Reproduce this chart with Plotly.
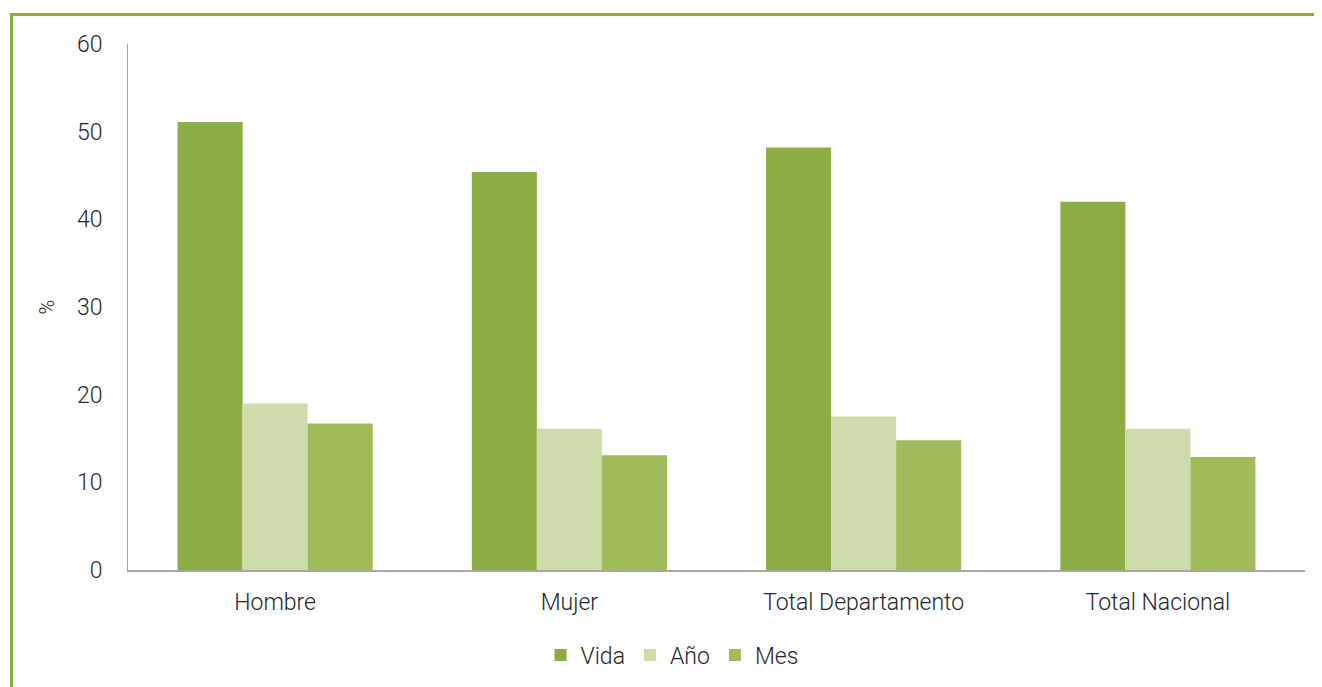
import plotly.graph_objects as go

categories = ["Hombre", "Mujer", "Total Departamento", "Total Nacional"]
vida = [51.1, 45.4, 48.2, 42.0]
anio = [19.0, 16.1, 17.5, 16.1]
mes = [16.7, 13.1, 14.8, 12.9]
y_ticks = [0, 10, 20, 30, 40, 50, 60]

# page has an 8px body margin; figure sized to fill the remaining window
OFF = 8
W, H = 1322 - OFF, 687 - OFF
PL, PR, PT, PB = 128, 1305, 44, 571  # plot area in page pixels
ML, MT = PL - OFF, PT - OFF
MR = W - (PR - OFF)
MB = H - (PB - OFF)
PW, PH = W - ML - MR, H - MT - MB

def px_x(p):
    return (p - OFF - ML) / PW

def px_y(p):
    return (H - MB - (p - OFF)) / PH

FAM = "Roboto Light, Roboto"
font = dict(family=FAM, size=23, color="#262626", weight=300)

fig = go.Figure()
fig.add_trace(go.Bar(name="Vida", x=categories, y=vida, marker=dict(color="#8aad46", line=dict(width=0))))
fig.add_trace(go.Bar(name="Año", x=categories, y=anio, marker=dict(color="#cddcaa", line=dict(width=0))))
fig.add_trace(go.Bar(name="Mes", x=categories, y=mes, marker=dict(color="#9fbb5a", line=dict(width=0))))

fig.update_layout(
    width=W, height=H,
    margin=dict(l=ML, r=MR, t=MT, b=MB),
    paper_bgcolor="white", plot_bgcolor="white",
    barmode="group", bargap=0.337, bargroupgap=0,
    font=font,
    showlegend=True,
    legend=dict(orientation="h", x=px_x(672), xanchor="center", y=px_y(655), yanchor="middle",
                font=font, itemwidth=30, tracegroupgap=0),
    xaxis=dict(showline=True, linecolor="#a6a6a6", linewidth=2, ticks="", showgrid=False,
               tickfont=font, ticklabelstandoff=10),
    yaxis=dict(range=[0, 60], tickvals=y_ticks, showline=True, linecolor="#a6a6a6", linewidth=1,
               ticks="", showgrid=False, zeroline=False, tickfont=font, ticklabelstandoff=20,
               title=dict(text="%", font=dict(family=FAM, size=20, color="#262626", weight=300), standoff=16)),
    shapes=[
        dict(type="line", xref="paper", yref="paper", x0=px_x(11.5), x1=px_x(1330), y0=px_y(14.5), y1=px_y(14.5),
             line=dict(color="#8aad46", width=3)),
        dict(type="line", xref="paper", yref="paper", x0=px_x(11.5), x1=px_x(11.5), y0=px_y(13), y1=px_y(700),
             line=dict(color="#8aad46", width=3)),
    ],
)

fig.write_html("out.html")
